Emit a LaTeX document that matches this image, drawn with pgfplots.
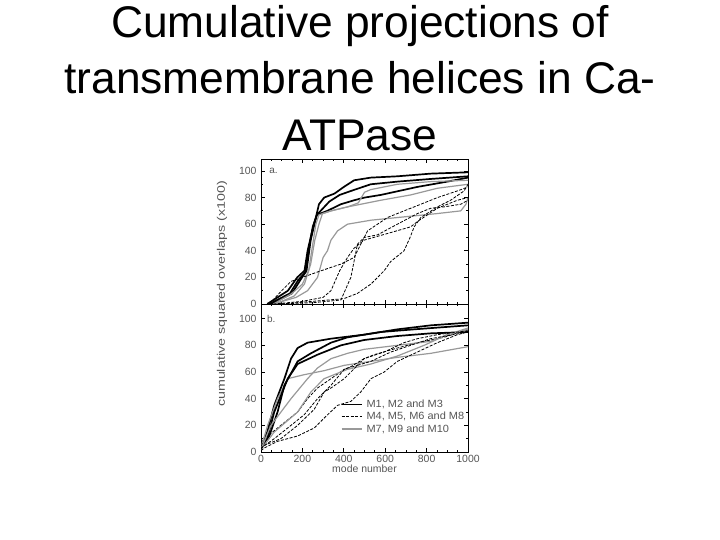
\documentclass[border=0pt]{standalone}
\usepackage{fontspec}
\setmainfont{Liberation Sans}
\usepackage{graphicx}
\usepackage{pgfplots}
\pgfplotsset{compat=1.18}
\definecolor{lgray}{HTML}{999999}
\definecolor{txtgray}{HTML}{555555}
\pgfplotsset{
  panel/.style={
    scale only axis,
    width=207bp,
    xmin=0, xmax=1000,
    xtick={0,200,...,1000},
    minor x tick num=3,
    ytick={0,20,...,100},
    minor y tick num=1,
    tick align=inside,
    major tick length=4bp,
    minor tick length=2bp,
    axis line style={line width=0.9bp},
    every tick/.style={black,line width=0.8bp},
    /pgf/number format/assume math mode=true,
    tick label style={font=\fontsize{10.5}{12}\selectfont, text=txtgray},
    yticklabel style={xshift=-1bp},
    /pgf/number format/1000 sep={},
  },
  thk/.style={black, line width=1.7bp},
  dsh/.style={black, line width=0.8bp, dash pattern=on 3bp off 1.5bp},
  gry/.style={lgray, line width=1.2bp},
}
\begin{document}
\begin{tikzpicture}
\useasboundingbox (0,0) rectangle (720bp,-540bp);
\node[anchor=base, font=\fontsize{44.5}{44}\selectfont] at (360bp,-37bp) {Cumulative projections of};
\node[anchor=base, font=\fontsize{44.5}{44}\selectfont] at (360bp,-93bp) {transmembrane helices in Ca-};
\node[anchor=base, font=\fontsize{44.5}{44}\selectfont] at (360bp,-150bp) {ATPase};
\node[rotate=90, font=\fontsize{11}{12}\selectfont, text=txtgray] at (222bp,-294bp) {\scalebox{1.3}[1]{cumulative squared overlaps (x100)}};

% Panel a
\begin{axis}[panel, at={(261bp,-304bp)}, anchor=south west, height=145bp,
  ymin=0, ymax=109, xticklabels={}]
\addplot[thk] coordinates {(30,0) (130,10) (175,20) (210,25) (225,40) (240,50) (255,60) (265,65) (280,75) (305,80) (355,83) (400,88) (450,93) (530,95) (659,96) (820,98) (1000,99)};
\addplot[thk] coordinates {(40,0) (140,8) (180,18) (215,24) (235,45) (250,58) (270,67) (300,72) (330,77) (380,82) (435,85) (530,90) (659,92) (820,94) (1000,96)};
\addplot[thk] coordinates {(50,0) (150,8) (190,18) (220,25) (240,48) (255,58) (270,67) (320,70) (386,75) (450,78) (500,80) (579,82) (755,88) (900,92) (1000,95)};
\addplot[gry] coordinates {(60,0) (150,8) (200,15) (230,25) (250,45) (265,60) (280,67) (338,70) (418,73) (470,76) (500,84) (530,86) (659,90) (820,92) (1000,93)};
\addplot[gry] coordinates {(70,0) (160,6) (210,15) (240,30) (260,48) (280,60) (297,68) (338,70) (418,73) (579,78) (723,82) (852,87) (1000,90)};
\addplot[gry] coordinates {(60,0) (170,5) (225,10) (273,20) (300,35) (321,40) (338,48) (370,55) (418,60) (531,63) (659,65) (852,68) (965,70) (990,75) (1000,80)};
\addplot[dsh] coordinates {(40,0) (100,10) (145,17) (200,20) (290,25) (386,30) (450,35) (482,45) (515,55) (563,60) (611,65) (691,70) (772,75) (852,80) (949,85) (1000,88)};
\addplot[dsh] coordinates {(60,0) (200,2) (300,5) (338,10) (380,25) (418,35) (450,42) (498,48) (611,53) (723,58) (756,62) (852,72) (949,78) (1000,80)};
\addplot[dsh] coordinates {(80,0) (250,1) (386,3) (434,20) (466,45) (498,50) (563,52) (659,60) (756,68) (820,72) (884,73) (965,75) (1000,78)};
\addplot[dsh] coordinates {(100,0) (250,2) (400,4) (466,8) (531,15) (595,25) (627,32) (691,40) (720,50) (740,58) (772,65) (852,73) (916,78) (981,85) (1000,90)};
\node[font=\fontsize{10}{12}\selectfont, text=txtgray] at (axis cs:60,100) {a.};
\end{axis}

% Panel b
\begin{axis}[panel, at={(261bp,-452bp)}, anchor=south west, height=148bp,
  ymin=0, ymax=111,
  xlabel={mode number},
  xlabel style={font=\fontsize{10.5}{12}\selectfont, text=txtgray, yshift=5bp},
  legend style={at={(axis cs:385,40)}, anchor=north west, draw=none, fill=none,
    font=\fontsize{10.5}{11}\selectfont, text=txtgray, row sep=1.2bp, column sep=3bp, inner sep=0pt,
    nodes={inner sep=1bp}},
  legend cell align=left,
  legend image code/.code={\draw[#1] (0bp,0bp) -- (20bp,0bp);}]
\addplot[thk] coordinates {(0,5) (30,15) (64,35) (113,55) (145,70) (177,78) (225,82) (338,85) (498,88) (659,92) (820,95) (1000,97)};
\addlegendentry{\scalebox{1.05}[1]{M1, M2 and M3}}
\addplot[dsh] coordinates {(0,5) (16,10) (96,20) (177,30) (225,40) (273,48) (338,55) (402,62) (466,65) (498,70) (547,73) (659,78) (756,82) (884,86) (1000,92)};
\addlegendentry{\scalebox{1.05}[1]{M4, M5, M6 and M8}}
\addplot[gry] coordinates {(0,3) (32,20) (80,40) (129,55) (209,58) (305,61) (402,65) (531,68) (659,71) (820,74) (1000,79)};
\addlegendentry{\scalebox{1.05}[1]{M7, M9 and M10}}
\addplot[thk, forget plot] coordinates {(0,3) (40,12) (80,30) (113,50) (177,68) (241,74) (338,82) (418,86) (579,90) (740,92) (1000,95)};
\addplot[thk, forget plot] coordinates {(0,4) (30,10) (64,30) (129,55) (177,66) (273,73) (386,80) (498,84) (659,87) (820,89) (1000,90)};
\addplot[gry, forget plot] coordinates {(0,2) (48,20) (145,40) (225,55) (273,63) (338,70) (418,74) (498,77) (659,80) (820,83) (900,88) (1000,93)};
\addplot[gry, forget plot] coordinates {(0,2) (64,15) (177,30) (241,45) (305,55) (418,62) (531,66) (659,72) (788,80) (900,88) (1000,92)};
\addplot[dsh, forget plot] coordinates {(0,3) (64,10) (145,20) (209,28) (273,40) (338,50) (402,62) (434,64) (498,70) (595,75) (691,82) (756,85) (852,88) (1000,91)};
\addplot[dsh, forget plot] coordinates {(0,2) (16,5) (96,10) (177,20) (257,32) (305,45) (338,48) (402,55) (466,65) (531,68) (627,75) (723,80) (820,85) (1000,90)};
\addplot[dsh, forget plot] coordinates {(0,1) (16,3) (80,8) (177,12) (257,18) (322,28) (370,35) (434,38) (482,45) (531,55) (595,60) (659,68) (756,75) (852,82) (949,88) (1000,90)};
\node[font=\fontsize{10}{12}\selectfont, text=txtgray] at (axis cs:50,100) {b.};
\end{axis}
\end{tikzpicture}
\end{document}
